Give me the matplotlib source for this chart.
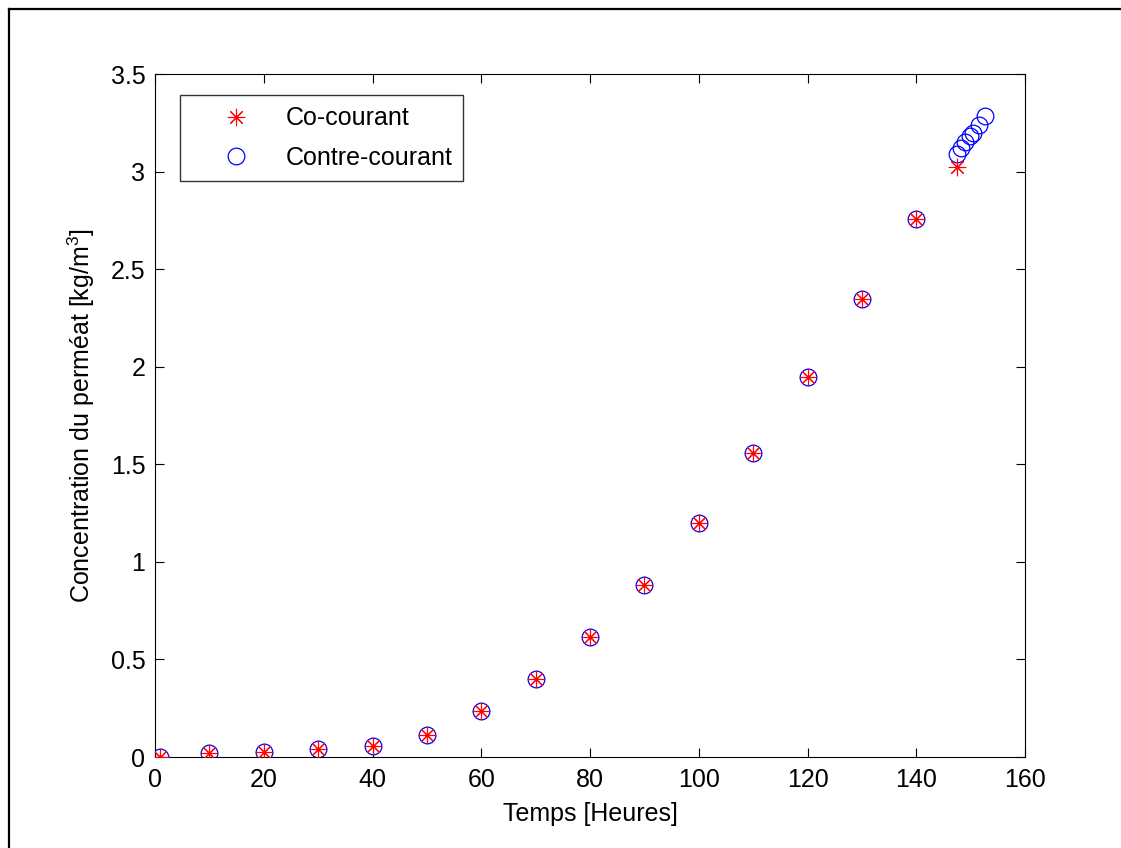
import matplotlib
matplotlib.use("Agg")
import matplotlib.pyplot as plt
from matplotlib.lines import Line2D

plt.rcParams['font.family'] = ['Liberation Sans', 'DejaVu Sans']
plt.rcParams['mathtext.fontset'] = 'custom'
plt.rcParams['mathtext.rm'] = 'Liberation Sans'
plt.rcParams['mathtext.it'] = 'Liberation Sans:italic'

# Co-courant
t_co = [1, 10, 20, 30, 40, 50, 60, 70, 80, 90, 100, 110, 120, 130, 140, 147.5]
c_co = [0.0, 0.019, 0.027, 0.039, 0.056, 0.111, 0.236, 0.40, 0.615, 0.882,
        1.199, 1.558, 1.948, 2.347, 2.757, 3.025]

# Contre-courant
t_contre = [1, 10, 20, 30, 40, 50, 60, 70, 80, 90, 100, 110, 120, 130, 140,
            147.5, 148.2, 149.0, 149.8, 150.5, 151.5, 152.6]
c_contre = [0.0, 0.019, 0.027, 0.039, 0.056, 0.111, 0.236, 0.40, 0.615, 0.882,
            1.199, 1.558, 1.948, 2.347, 2.757,
            3.09, 3.12, 3.15, 3.18, 3.20, 3.24, 3.285]

xticks = [0, 20, 40, 60, 80, 100, 120, 140, 160]
yticks = [0, 0.5, 1, 1.5, 2, 2.5, 3, 3.5]
yticklabels = ['0', '0.5', '1', '1.5', '2', '2.5', '3', '3.5']

FS = 18

fig = plt.figure(figsize=(11.21, 8.48), dpi=100)
ax = fig.add_axes([0.1383, 0.1073, 0.9144 - 0.1383, 0.9127 - 0.1073])

ax.plot(t_co, c_co, linestyle='none', marker=(8, 2, 0), markersize=12.5,
        markeredgewidth=0.8, color='#ff0000', label='Co-courant', zorder=3)
ax.plot(t_contre, c_contre, linestyle='none', marker='o', markersize=12,
        markeredgewidth=0.9, markerfacecolor='none', markeredgecolor='#0000ff',
        label='Contre-courant', zorder=2)

ax.set_xlim(0, 160)
ax.set_ylim(0, 3.5)
ax.set_xticks(xticks)
ax.set_yticks(yticks)
ax.set_yticklabels(yticklabels)
ax.tick_params(direction='in', length=6.5, width=0.8, labelsize=FS,
               top=True, right=True, colors='black')
ax.tick_params(axis='x', pad=8)
ax.tick_params(axis='y', pad=7)
for s in ax.spines.values():
    s.set_linewidth(0.8)
    s.set_color('black')

ax.set_xlabel('Temps [Heures]', fontsize=FS, labelpad=7)
ax.set_ylabel(r'Concentration du perméat [kg/m$^{3}$]', fontsize=FS, labelpad=10)

leg = ax.legend(loc='upper left', bbox_to_anchor=(0.0287, 0.969), fontsize=FS,
                frameon=True, fancybox=False, edgecolor='black',
                borderpad=0.45, handletextpad=0.16, handlelength=3.6,
                labelspacing=0.62, borderaxespad=0)
leg.get_frame().set_linewidth(1.0)

# outer border (left and top)
fig.add_artist(Line2D([9/1121, 9/1121], [0, 1 - 9/848], transform=fig.transFigure,
                      color='black', linewidth=1.6))
fig.add_artist(Line2D([9/1121, 1], [1 - 9/848, 1 - 9/848], transform=fig.transFigure,
                      color='black', linewidth=1.6))

fig.savefig('out.png', dpi=100, facecolor='white')
